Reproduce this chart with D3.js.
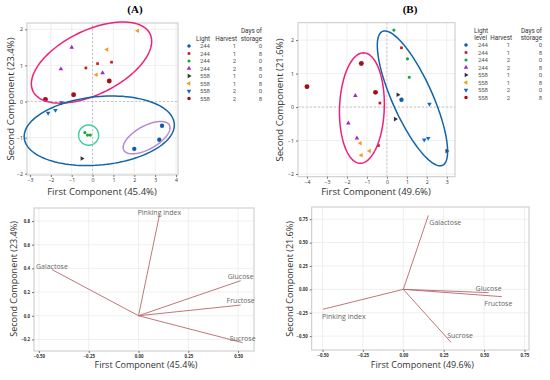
<!DOCTYPE html>
<html>
<head>
<meta charset="UTF-8">
<script src="https://cdn.jsdelivr.net/npm/d3@7"></script>
<style>
  body { margin: 0; background: #fff; }
  svg { font-family: "Open Sans", sans-serif; }
</style>
</head>
<body>
<div id="chart"></div>
<script>
// legend groups
const groupLight   = ["244", "244", "244", "244", "558", "558", "558", "558"];
const groupHarvest = ["1", "1", "2", "2", "1", "1", "2", "2"];
const groupDays    = ["0", "8", "0", "8", "0", "8", "0", "8"];

// scores, one list per group (first, second component)
const scoresA = [
  [[3.33, -0.67], [3.2, -1.06], [2.0, -1.31]],
  [[0.24, 1.05], [0.91, 1.09], [-0.32, 0.93]],
  [[-0.37, -0.86], [-0.24, -0.93], [-0.11, -0.93]],
  [[-1.0, 1.5], [-1.52, 0.9], [0.48, 0.79]],
  [[-0.51, -1.58]],
  [[2.16, 1.96], [0.69, 1.44], [0.18, 0.74]],
  [[-1.49, -0.03], [-2.13, -0.32], [-1.78, -0.24]],
  [[-2.26, 0.06], [-0.91, 0.19], [0.8, 0.57]]
];
const scoresB = [
  [[0.73, 0.22]],
  [[0.73, 1.77], [-0.35, 0.12], [-0.42, -1.15]],
  [[0.35, 2.3], [1.03, 1.44], [1.12, 0.89]],
  [[-1.58, 0.34], [-1.93, -0.48], [-1.5, -0.93]],
  [[0.55, 0.37], [0.42, -0.36], [3.0, -1.31]],
  [[-1.33, -1.08], [-1.28, -1.44], [-0.87, -1.31]],
  [[2.13, 0.09], [1.87, -0.98], [2.07, -0.93]],
  [[-4.0, 0.61], [-1.28, 1.3], [-0.57, 0.44]]
];

// ellipses: centre and two semi-axis vectors, in component units
const ellipsesA = [
  { cx: -0.05, cy: 1.08, ux: 2.8, uy: 0.8, vx: 0.69, vy: -0.79 },
  { cx: 0.32, cy: -0.81, ux: 3.6, uy: 0.16, vx: 0, vy: 0.95 },
  { cx: -0.19, cy: -0.93, ux: 0.48, uy: 0, vx: 0, vy: 0.28 },
  { cx: 2.59, cy: -1.0, ux: 1.09, uy: 0.35, vx: 0.27, vy: -0.28 }
];
const ellipsesB = [
  { cx: 1.28, cy: 0.26, ux: -1.5, uy: 2.0, vx: 0.92, vy: 0.24 },
  { cx: -1.25, cy: -0.03, ux: 0.08, uy: 1.65, vx: 1.12, vy: 0 }
];

// loadings
const variablesC = ["Pinking index", "Galactose", "Glucose", "Fructose", "Sucrose"];
const loadingsC  = [[0.105, 0.85], [-0.435, 0.39], [0.513, 0.296], [0.513, 0.09], [0.523, -0.228]];
const variablesD = ["Galactose", "Glucose", "Fructose", "Pinking index", "Sucrose"];
const loadingsD  = [[0.155, 0.79], [0.528, -0.035], [0.61, -0.078], [-0.497, -0.213], [0.296, -0.567]];

const ticksScatterAx = [-3, -2, -1, 0, 1, 2, 3, 4];
const ticksScatterAy = [-2, -1, 0, 1, 2];
const ticksScatterBx = [-4, -3, -2, -1, 0, 1, 2, 3];
const ticksScatterBy = [-2, -1, 0, 1, 2];
const ticksCx = [-0.5, -0.25, 0, 0.25, 0.5];
const ticksCy = [-0.2, 0, 0.2, 0.4, 0.6, 0.8];
const ticksDx = [-0.5, -0.25, 0, 0.25, 0.5, 0.75];
const ticksDy = [-0.5, -0.25, 0, 0.25, 0.5, 0.75];

// styles
const groupColors = ["#0d5eaf", "#c4161c", "#16a83a", "#a326c9", "#333333", "#f39a1a", "#1668c4", "#a50f15"];
const groupSymbols = ["circle", "square", "circle", "up", "right", "left", "down", "circle"];
const groupSizes = [15, 7, 8, 9, 9, 9, 9, 19];
const ellipseColorsA = ["#f0207a", "#1265a8", "#3ccf9a", "#b48ad6"];
const ellipseColorsB = ["#1265a8", "#f0207a"];
const labelOffsetC = [[0, 0, "middle"], [0, -1, "middle"], [0, -2, "middle"], [0, -2.5, "middle"], [0, -2, "middle"]];
const labelOffsetD = [[1, 10, "start"], [0, -1.5, "middle"], [-3.5, 9, "middle"], [-1, 10, "start"], [-4, -4, "start"]];

const svg = d3.select("#chart").append("svg").attr("width", 550).attr("height", 380);

function frame(g, x, y, xt, yt, fmtX, fmtY, tsize, bold, dashedZero) {
  const [x0, x1] = x.range(), [y0, y1] = y.range();
  g.append("g").selectAll("line").data(xt).join("line")
    .attr("x1", d => x(d)).attr("x2", d => x(d)).attr("y1", y0).attr("y2", y1)
    .attr("stroke", "#ebebeb").attr("stroke-width", 0.8);
  g.append("g").selectAll("line").data(yt).join("line")
    .attr("y1", d => y(d)).attr("y2", d => y(d)).attr("x1", x0).attr("x2", x1)
    .attr("stroke", "#ebebeb").attr("stroke-width", 0.8);
  if (dashedZero) {
    g.append("line").attr("x1", x(0)).attr("x2", x(0)).attr("y1", y0).attr("y2", y1)
      .attr("stroke", "#bbb").attr("stroke-dasharray", "2,2").attr("stroke-width", 0.8);
    g.append("line").attr("y1", y(0)).attr("y2", y(0)).attr("x1", x0).attr("x2", x1)
      .attr("stroke", "#bbb").attr("stroke-dasharray", "2,2").attr("stroke-width", 0.8);
  }
  g.append("rect").attr("x", x0).attr("y", y1).attr("width", x1 - x0).attr("height", y0 - y1)
    .attr("fill", "none").attr("stroke", "#c8c8c8").attr("stroke-width", 1);
  const ax = g.append("g").attr("transform", `translate(0,${y0})`)
    .call(d3.axisBottom(x).tickValues(xt).tickFormat(fmtX).tickSize(2).tickPadding(1.5));
  const ay = g.append("g").attr("transform", `translate(${x0},0)`)
    .call(d3.axisLeft(y).tickValues(yt).tickFormat(fmtY).tickSize(2).tickPadding(2));
  [ax, ay].forEach(a => {
    a.select(".domain").remove();
    a.selectAll(".tick line").attr("stroke", "#777");
    a.selectAll("text").attr("font-size", tsize).attr("font-weight", bold ? "bold" : "normal")
      .attr("fill", "#333").attr("font-family", "Open Sans, sans-serif");
  });
}

function axisTitles(g, xLabel, yLabel, xPos, yPos, size) {
  g.append("text").attr("x", xPos[0]).attr("y", xPos[1]).attr("text-anchor", "middle")
    .attr("font-size", size).attr("fill", "#333").text(xLabel);
  g.append("text").attr("transform", `translate(${yPos[0]},${yPos[1]}) rotate(-90)`)
    .attr("text-anchor", "middle").attr("font-size", size).attr("fill", "#333").text(yLabel);
}

function symbolPath(kind, size) {
  const type = kind === "circle" ? d3.symbolCircle : kind === "square" ? d3.symbolSquare : d3.symbolTriangle;
  return d3.symbol().type(type).size(size)();
}
const rot = { up: 0, right: 90, down: 180, left: -90, circle: 0, square: 0 };

function drawPoints(g, x, y, scores) {
  scores.forEach((pts, i) => {
    g.append("g").selectAll("path").data(pts).join("path")
      .attr("d", symbolPath(groupSymbols[i], groupSizes[i]))
      .attr("transform", d => `translate(${x(d[0])},${y(d[1])}) rotate(${rot[groupSymbols[i]]})`)
      .attr("fill", groupColors[i]);
  });
}

function drawEllipses(g, x, y, ells, colors) {
  const ts = d3.range(0, 2 * Math.PI, Math.PI / 60);
  const line = d3.line().curve(d3.curveLinearClosed);
  ells.forEach((e, i) => {
    const pts = ts.map(t => [
      x(e.cx + e.ux * Math.cos(t) + e.vx * Math.sin(t)),
      y(e.cy + e.uy * Math.cos(t) + e.vy * Math.sin(t))
    ]);
    g.append("path").attr("d", line(pts)).attr("fill", "none")
      .attr("stroke", colors[i]).attr("stroke-width", 1.5);
  });
}

function legend(g, sx, cols, rowY, headers) {
  headers.forEach(h => {
    g.append("text").attr("x", h[0]).attr("y", h[1]).attr("text-anchor", "end")
      .attr("font-family", "Roboto, sans-serif").attr("font-size", 6.3).attr("fill", "#333").text(h[2]);
  });
  groupLight.forEach((l, i) => {
    const yy = rowY + i * 7.5;
    const k = groupSymbols[i];
    g.append("path").attr("d", symbolPath(k, Math.min(groupSizes[i], 10)))
      .attr("transform", `translate(${sx},${yy}) rotate(${rot[k]})`).attr("fill", groupColors[i]);
    [l, groupHarvest[i], groupDays[i]].forEach((v, j) => {
      g.append("text").attr("x", cols[j]).attr("y", yy + 2.2).attr("text-anchor", "end")
        .attr("font-family", "Roboto, sans-serif").attr("font-size", 6).attr("fill", "#555").text(v);
    });
  });
}

// ---- panel A
const xA = d3.scaleLinear().domain([-3.144, 4.096]).range([27, 178]);
const yA = d3.scaleLinear().domain([-2.035, 2.175]).range([175, 23]);
const gA = svg.append("g");
frame(gA, xA, yA, ticksScatterAx, ticksScatterAy, d3.format("d"), d3.format("d"), 5.2, false, true);
drawPoints(gA, xA, yA, scoresA);
drawEllipses(gA, xA, yA, ellipsesA, ellipseColorsA);
axisTitles(gA, "First Component (45.4%)", "Second Component (23.4%)", [102, 195], [14, 99], 9.6);
legend(gA, 189, [210, 236, 262], 46, [[262, 32.5, "Days of"], [210, 40.5, "Light"], [237, 40.5, "Harvest"], [262, 40.5, "storage"]]);

// ---- panel B
const xB = d3.scaleLinear().domain([-4.45, 3.41]).range([298, 455]);
const yB = d3.scaleLinear().domain([-2.08, 2.52]).range([176.7, 22.7]);
const gB = svg.append("g");
frame(gB, xB, yB, ticksScatterBx, ticksScatterBy, d3.format("d"), d3.format("d"), 5.2, false, true);
drawPoints(gB, xB, yB, scoresB);
drawEllipses(gB, xB, yB, ellipsesB, ellipseColorsB);
axisTitles(gB, "First Component (49.6%)", "Second Component (21.6%)", [376, 195], [283, 100], 9.6);
legend(gB, 466, [488, 510, 542], 45, [[488, 33, "Light"], [542, 33, "Days of"], [487, 40, "level"], [512, 40, "Harvest"], [542, 40, "storage"]]);

// panel titles
svg.append("text").attr("x", 135).attr("y", 13).attr("text-anchor", "middle")
  .attr("font-family", "Liberation Serif, serif").attr("font-weight", "bold").attr("font-size", 11).text("(A)");
svg.append("text").attr("x", 410).attr("y", 13).attr("text-anchor", "middle")
  .attr("font-family", "Liberation Serif, serif").attr("font-weight", "bold").attr("font-size", 11).text("(B)");

// ---- loading plots
function biplot(x, y, xt, yt, fmtY, names, loads, offs, xLabel, yLabel, yTitleX) {
  const g = svg.append("g");
  frame(g, x, y, xt, yt, d3.format(".2f"), fmtY, 4.4, true, false);
  loads.forEach((d, i) => {
    g.append("line").attr("x1", x(0)).attr("y1", y(0)).attr("x2", x(d[0])).attr("y2", y(d[1]))
      .attr("stroke", "#b9676c").attr("stroke-width", 1).attr("stroke-opacity", 0.9);
    g.append("text").attr("x", x(d[0]) + offs[i][0]).attr("y", y(d[1]) + offs[i][1])
      .attr("text-anchor", offs[i][2]).attr("font-size", 7).attr("fill", "#666").text(names[i]);
  });
  const [x0, x1] = x.range();
  axisTitles(g, xLabel, yLabel, [(x0 + x1) / 2 + 2, 368], [yTitleX, 279], 9);
}
const xC = d3.scaleLinear().domain([-0.525, 0.58]).range([34, 254]);
const yC = d3.scaleLinear().domain([-0.298, 0.91]).range([351, 208]);
biplot(xC, yC, ticksCx, ticksCy, d3.format(".1f"), variablesC, loadingsC, labelOffsetC,
  "First Component (45.4%)", "Second Component (23.4%)", 17);

const xD = d3.scaleLinear().domain([-0.567, 0.778]).range([311.7, 529]);
const yD = d3.scaleLinear().domain([-0.648, 0.88]).range([350, 207]);
biplot(xD, yD, ticksDx, ticksDy, d3.format(".2f"), variablesD, loadingsD, labelOffsetD,
  "First Component (49.6%)", "Second Component (21.6%)", 293);
</script>
</body>
</html>
